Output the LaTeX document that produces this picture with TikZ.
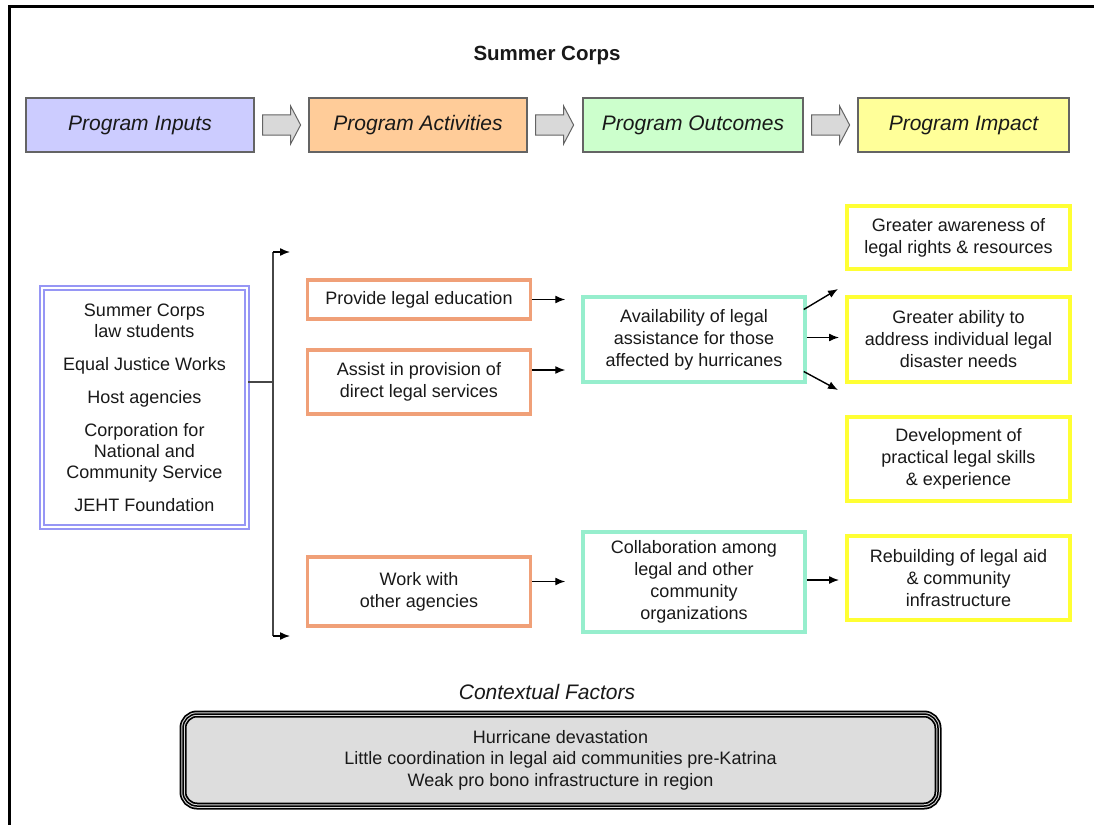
\documentclass[tikz,border=0pt]{standalone}
\usepackage{fontspec}
\setmainfont{Liberation Sans}
\usetikzlibrary{arrows.meta}
\definecolor{inF}{RGB}{204,204,255}
\definecolor{actF}{RGB}{255,204,153}
\definecolor{outF}{RGB}{204,255,204}
\definecolor{impF}{RGB}{255,255,153}
\definecolor{hdrB}{RGB}{100,100,100}
\definecolor{actB}{RGB}{240,160,120}
\definecolor{outB}{RGB}{150,238,205}
\definecolor{impB}{RGB}{255,255,51}
\definecolor{inB}{RGB}{150,150,245}
\definecolor{txt}{RGB}{25,25,25}
\definecolor{ctxF}{RGB}{221,221,221}
\definecolor{arrF}{RGB}{217,217,217}
\definecolor{busC}{RGB}{70,70,70}
\begin{document}
\begin{tikzpicture}[x=1pt,y=-1pt,
  every node/.style={text=txt},
  hdr/.style={draw=hdrB, line width=1.2pt, minimum height=54pt, inner sep=0pt,
    font=\fontsize{21}{25}\selectfont\itshape},
  bodyfont/.style={font=\fontsize{18}{22}\selectfont, align=center},
  actbox/.style={bodyfont, draw=actB, line width=3.5pt, fill=white, minimum width=223pt, inner sep=0pt},
  outbox/.style={bodyfont, draw=outB, line width=3.5pt, fill=white, minimum width=222pt, inner sep=0pt},
  impbox/.style={bodyfont, draw=impB, line width=4pt, fill=white, minimum width=223pt, inner sep=0pt},
  inbox/.style={font=\fontsize{18}{21}\selectfont, align=center, draw=inB, line width=1.6pt,
    double=white, double distance=2pt, minimum width=205pt, minimum height=239pt, inner sep=0pt},
  conn/.style={-{Latex[length=10pt,width=8pt]}, line width=1.4pt, draw=black},
  busline/.style={line width=1.5pt, draw=busC},
  blockarrow/.style={fill=arrF, draw=hdrB, line width=1pt, line join=miter},
  ctxbox/.style={font=\fontsize{18}{21.5}\selectfont, align=center, rounded corners=14pt,
    minimum width=755pt, minimum height=92pt, fill=ctxF, draw=black, line width=7pt,
    postaction={draw=white!85!black, line width=3.5pt},
    postaction={draw=black, line width=1.5pt}}]

\useasboundingbox (0,0) rectangle (1094,824);
\fill[white] (0,0) rectangle (1094,824);
\draw[line width=3pt, line join=miter] (9,826) -- (9,7) -- (1096,7);

% title
\node (title) at (547,55) {\fontsize{20.5}{24}\selectfont\bfseries Summer Corps};

% headers
\node[hdr, fill=inF, minimum width=228pt] (hin) at (140,125) {Program Inputs};
\node[hdr, fill=actF, minimum width=218pt] (hact) at (418,125) {Program Activities};
\node[hdr, fill=outF, minimum width=220pt] (hout) at (693,125) {Program Outcomes};
\node[hdr, fill=impF, minimum width=211pt] (himp) at (963.5,125) {Program Impact};

% block arrows
\draw[blockarrow] ([xshift=8pt]hin.east) ++(0,-10) -- ++(28,0) -- ++(0,-9) -- ++(10,19)
  -- ++(-10,19) -- ++(0,-9) -- ++(-28,0) -- cycle;
\draw[blockarrow] ([xshift=8pt]hact.east) ++(0,-10) -- ++(28,0) -- ++(0,-9) -- ++(10,19)
  -- ++(-10,19) -- ++(0,-9) -- ++(-28,0) -- cycle;
\draw[blockarrow] ([xshift=8pt]hout.east) ++(0,-10) -- ++(28,0) -- ++(0,-9) -- ++(10,19)
  -- ++(-10,19) -- ++(0,-9) -- ++(-28,0) -- cycle;

% inputs
\node[inbox] (inp) at (144.5,407.5) {Summer Corps\\law students\\[12pt]Equal Justice Works\\[12pt]Host agencies\\[12pt]Corporation for\\National and\\Community Service\\[12pt]JEHT Foundation};

% bus
\coordinate (busM) at (273,382);
\coordinate (busT) at (273,252);
\coordinate (busB) at (273,636);
\coordinate (busTe) at (290,252);
\coordinate (busBe) at (290,636);
\draw[busline] (inp.east |- busM) -- (busM);
\draw[busline] (busT) -- (busB);
\draw[conn] (busT) -- (busTe);
\draw[conn] (busB) -- (busBe);

% activities
\node[actbox, minimum height=39pt] (a1) at (419,299.5) {Provide legal education};
\node[actbox, minimum height=64pt] (a2) at (419,382) {Assist in provision of\\direct legal services};
\node[actbox, minimum height=69pt] (a3) at (419,591.5) {Work with\\other agencies};

% outcomes
\node[outbox, minimum height=85pt] (o1) at (694,339.5) {Availability of legal\\assistance for those\\affected by hurricanes};
\node[outbox, minimum height=100pt] (o2) at (694,582) {Collaboration among\\legal and other\\community\\organizations};

% impacts
\node[impbox, minimum height=63pt] (i1) at (958.5,237.5) {Greater awareness of\\legal rights \& resources};
\node[impbox, minimum height=85pt] (i2) at (958.5,339.5) {Greater ability to\\address individual legal\\disaster needs};
\node[impbox, minimum height=84pt] (i3) at (958.5,459) {Development of\\practical legal skills\\\& experience};
\node[impbox, minimum height=84pt] (i4) at (958.5,578) {Rebuilding of legal aid\\\& community\\infrastructure};

% connectors activities -> outcomes
\draw[conn] (a1.east) -- ([xshift=-16pt]a1.east -| o1.west);
\draw[conn] ([yshift=12pt]a2.east) -- ([xshift=-16pt,yshift=12pt]a2.east -| o1.west);
\draw[conn] ([yshift=10pt]a3.east) -- ([xshift=-16pt,yshift=10pt]a3.east -| o2.west);

% outcomes -> impacts
\coordinate (up) at (838,289);
\coordinate (dn) at (838,390);
\draw[conn] ([xshift=-3pt,yshift=30pt]o1.east) -- (up);
\draw[conn] ([yshift=2pt]o1.east) -- ([xshift=-6pt,yshift=2pt]o1.east -| i2.west);
\draw[conn] ([xshift=-3pt,yshift=-32pt]o1.east) -- (dn);
\draw[conn] ([yshift=2pt]o2.east) -- ([xshift=-6pt,yshift=2pt]o2.east -| i4.west);

% contextual factors
\node (ctxlabel) at (547,692) {\fontsize{21}{25}\selectfont\itshape Contextual Factors};
\node[ctxbox] (ctx) at (560.5,760) {Hurricane devastation\\Little coordination in legal aid communities pre-Katrina\\Weak pro bono infrastructure in region};
\end{tikzpicture}
\end{document}
